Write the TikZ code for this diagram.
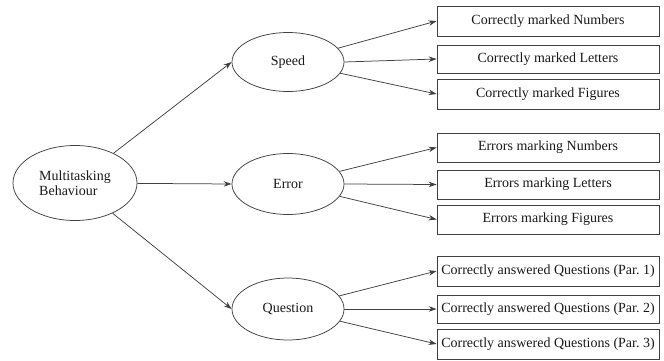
\documentclass[tikz,border=0pt]{standalone}
\usepackage{fontspec}
\setmainfont{Liberation Serif}
\usetikzlibrary{arrows.meta,shapes.geometric}
\frenchspacing
\begin{document}
\begin{tikzpicture}[x=1pt,y=-1pt,
  every node/.style={font=\fontsize{14}{15.5}\selectfont, text=black!90},
  latent/.style={draw=black!75, line width=0.75pt, ellipse, inner sep=0pt},
  measure/.style={draw=black!75, line width=0.75pt, rectangle, minimum width=222pt, inner sep=0pt, align=center},
  link/.style={draw=black!75, line width=0.75pt, -{Stealth[length=8pt,width=5.5pt]}}
]
\useasboundingbox (0,0) rectangle (664,361);

% latent constructs
\node[latent, minimum width=124pt, minimum height=75pt, align=left] (mb) at (75,183) {Multitasking\\Behaviour};
\node[latent, minimum width=112pt, minimum height=59pt] (speed) at (288,62) {Speed};
\node[latent, minimum width=112pt, minimum height=61pt] (error) at (288,184) {Error};
\node[latent, minimum width=112pt, minimum height=62pt] (quest) at (288,309) {Question};

% observed measures
\node[measure, minimum height=30pt] (s1) at (548,21) {Correctly marked Numbers};
\node[measure, minimum height=28pt] (s2) at (548,59) {Correctly marked Letters};
\node[measure, minimum height=30pt] (s3) at (548,94) {Correctly marked Figures};
\node[measure, minimum height=29pt] (e1) at (548,147.5) {Errors marking Numbers};
\node[measure, minimum height=29pt] (e2) at (548,184.5) {Errors marking Letters};
\node[measure, minimum height=29pt] (e3) at (548,219.5) {Errors marking Figures};
\node[measure, minimum height=30pt] (q1) at (548,271) {Correctly answered Questions (Par. 1)};
\node[measure, minimum height=28pt] (q2) at (548,309) {Correctly answered Questions (Par. 2)};
\node[measure, minimum height=30pt] (q3) at (548,344) {Correctly answered Questions (Par. 3)};

% paths from the general construct
\draw[link] (mb) -- (speed.west);
\draw[link] (mb) -- (error.west);
\draw[link] (mb) -- (quest.west);

% paths to the indicators
\foreach \c/\a/\b/\d in {speed/s1/s2/s3, error/e1/e2/e3, quest/q1/q2/q3}{
  \draw[link] (\c) -- (\a.west);
  \draw[link] (\c.east) -- (\b.west);
  \draw[link] (\c) -- (\d.west);
}
\end{tikzpicture}
\end{document}
